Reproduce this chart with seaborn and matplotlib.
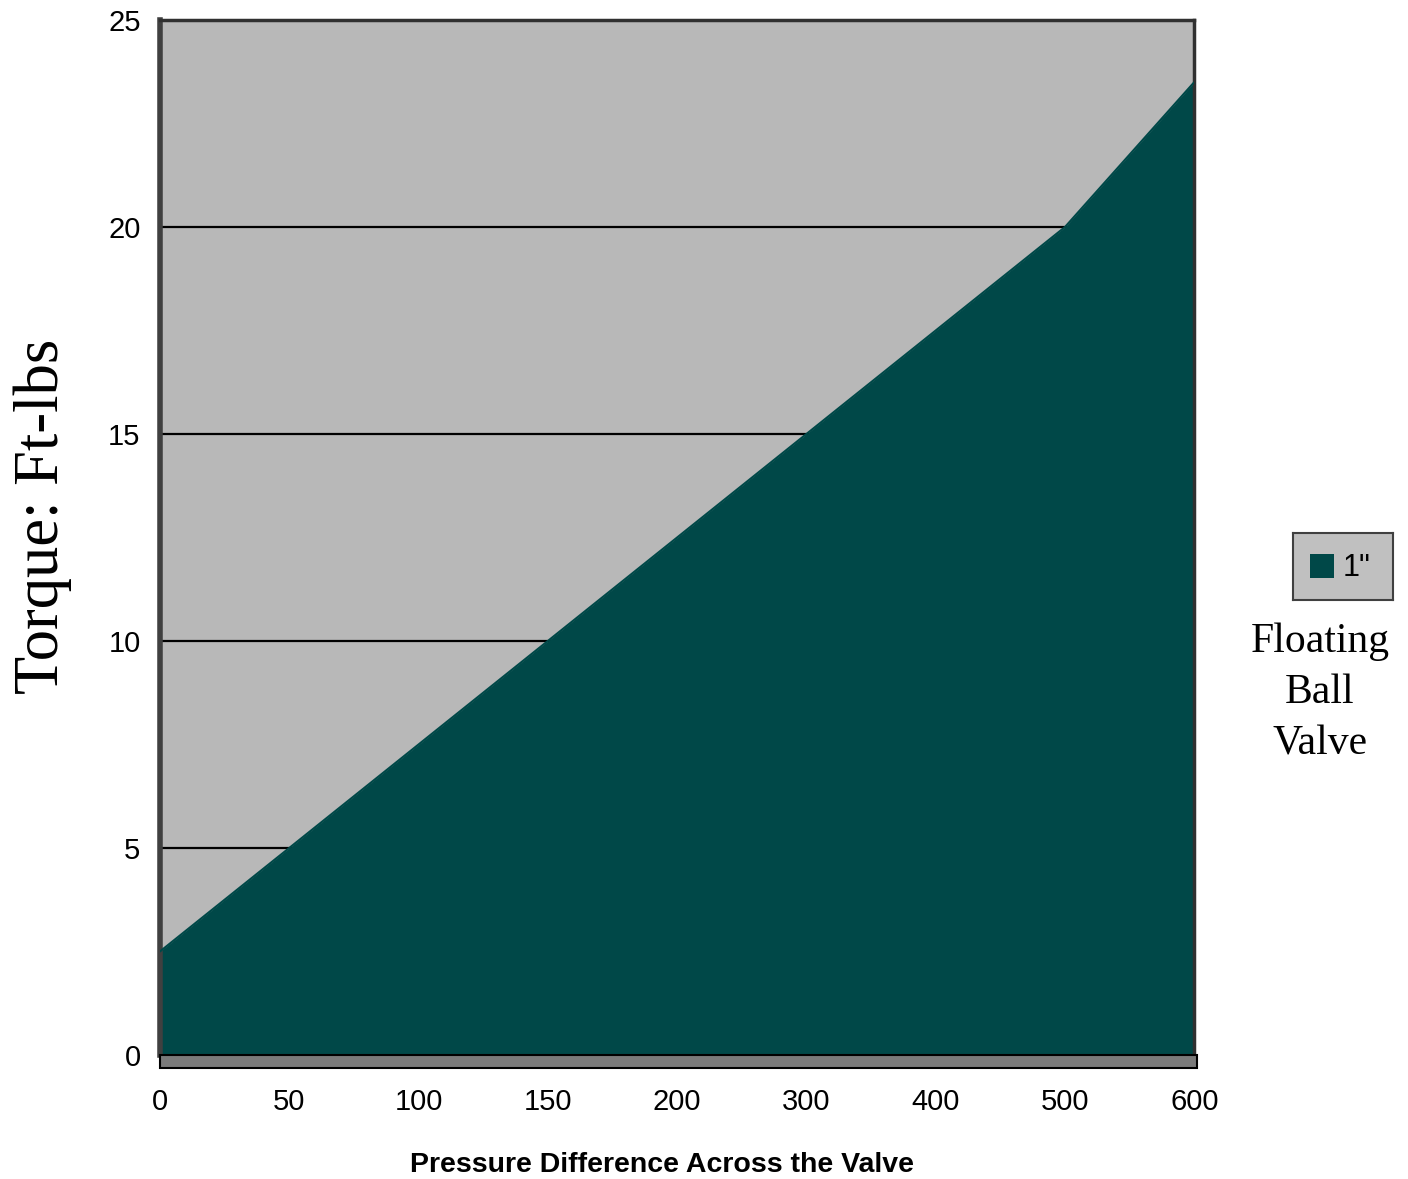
import matplotlib
matplotlib.use("Agg")
import matplotlib.pyplot as plt
import seaborn as sns
import numpy as np
from matplotlib.patches import Rectangle

pressure = ["0", "50", "100", "150", "200", "300", "400", "500", "600"]
torque = [2.5, 5.0, 7.5, 10.0, 12.5, 15.0, 17.5, 20.0, 23.5]
y_ticks = [0, 5, 10, 15, 20, 25]

sns.set_style("white")
plt.rcParams["font.family"] = ["Liberation Sans", "DejaVu Sans"]
plt.rcParams["text.color"] = "black"
plt.rcParams["xtick.color"] = "black"
plt.rcParams["ytick.color"] = "black"

fig = plt.figure(figsize=(14.08, 11.79), dpi=100)
ax = fig.add_axes([0.1136, 0.1052, 0.7346, 0.8778])

pos = np.arange(len(pressure))
ax.set_facecolor("#b8b8b8")

# gridlines on the back wall
for v in y_ticks[1:-1]:
    ax.axhline(v, color="black", lw=1.6, zorder=1)

ax.fill_between(pos, 0, torque, color="#004848", lw=0, zorder=2)
sns.lineplot(x=pos, y=torque, ax=ax, color="#004848", lw=1.5, zorder=3)

ax.set_xlim(0, len(pressure) - 1)
ax.set_ylim(0, 25)
ax.set_xticks(pos)
ax.set_xticklabels(pressure, fontsize=21)
ax.set_yticks(y_ticks)
ax.set_yticklabels([str(t) for t in y_ticks], fontsize=21)
ax.tick_params(axis="both", length=0, pad=14)
ax.tick_params(axis="x", pad=24)

for s in ["top", "right"]:
    ax.spines[s].set_color("#303030")
    ax.spines[s].set_linewidth(2.5)
ax.spines["left"].set_color("#404040")
ax.spines["left"].set_linewidth(4)
ax.spines["bottom"].set_visible(False)

# floor strip
ax.add_patch(Rectangle((0, -0.32), len(pressure) - 1 + 0.02, 0.32,
                       facecolor="#7a7a7a", edgecolor="black", lw=1.5,
                       clip_on=False, zorder=4))

ax.set_xlabel("Pressure Difference Across the Valve", fontsize=20.5,
              fontweight="bold", color="black")
ax.xaxis.set_label_coords(0.485, -0.094)
ax.set_ylabel("Torque: Ft-lbs", fontsize=45, family="Liberation Serif",
              color="black", va="center")
ax.yaxis.set_label_coords(-0.113, 0.52)

# legend
leg_ax = fig.add_axes([1293 / 1408, 1 - 600 / 1179, 100 / 1408, 67 / 1179])
leg_ax.set_facecolor("#c0c0c0")
leg_ax.set_xticks([])
leg_ax.set_yticks([])
for s in leg_ax.spines.values():
    s.set_color("#404040")
    s.set_linewidth(1.5)
leg_ax.set_xlim(0, 100)
leg_ax.set_ylim(0, 67)
leg_ax.add_patch(Rectangle((17, 22), 24, 24, facecolor="#004848", lw=0))
leg_ax.text(50, 32, '1"', fontsize=22, va="center", ha="left", color="black")

fig.text(1320 / 1408, 1 - 693 / 1179, "Floating\nBall\nValve",
         family="Liberation Serif", fontsize=30, ha="center", va="center",
         linespacing=1.42, color="black")

fig.savefig("out.png", dpi=100)
